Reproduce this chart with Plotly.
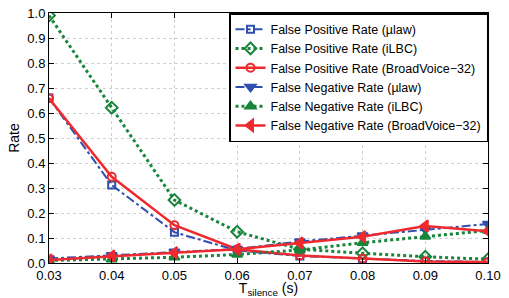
import plotly.graph_objects as go

t_silence = [0.03, 0.04, 0.05, 0.06, 0.07, 0.08, 0.09, 0.10]

fp_ulaw = [0.66, 0.312, 0.123, 0.05, 0.028, 0.017, 0.008, 0.004]
fp_ilbc = [0.99, 0.621, 0.252, 0.125, 0.055, 0.039, 0.025, 0.015]
fp_bv32 = [0.659, 0.345, 0.151, 0.055, 0.03, 0.017, 0.006, 0.004]
fn_ulaw = [0.018, 0.031, 0.045, 0.056, 0.086, 0.11, 0.135, 0.156]
fn_ilbc = [0.01, 0.015, 0.023, 0.034, 0.052, 0.081, 0.106, 0.13]
fn_bv32 = [0.012, 0.028, 0.041, 0.055, 0.08, 0.105, 0.148, 0.127]

names = [
    "False Positive Rate (\u00b5law)",
    "False Positive Rate (iLBC)",
    "False Positive Rate (BroadVoice\u221232)",
    "False Negative Rate (\u00b5law)",
    "False Negative Rate (iLBC)",
    "False Negative Rate (BroadVoice\u221232)",
]

BLUE = "#2f4fae"
GREEN = "#17853a"
RED = "#ee2a2e"

series = [
    (fp_ulaw, BLUE, "dashdot", 2, "square-open", 7),
    (fp_ilbc, GREEN, "dot", 3, "diamond-open", 9),
    (fp_bv32, RED, "solid", 2.5, "circle-open", 8),
    (fn_ulaw, BLUE, "dashdot", 2, "triangle-down", 9),
    (fn_ilbc, GREEN, "dot", 3, "triangle-up", 9),
    (fn_bv32, RED, "solid", 2.5, "triangle-left", 10),
]

fig = go.Figure()
for name, (vals, col, dash, w, sym, ms) in zip(names, series):
    fig.add_trace(go.Scatter(
        x=t_silence, y=vals, name=name, mode="lines+markers",
        line=dict(color=col, dash=dash, width=w),
        marker=dict(symbol=sym, size=ms, color=col,
                    line=dict(color=col, width=2)),
    ))

axis_common = dict(
    showline=True, linecolor="black", linewidth=1, mirror="allticks",
    ticks="inside", ticklen=5, tickcolor="black",
    showgrid=True, gridcolor="#d0d0d0", griddash="dot", gridwidth=1,
    zeroline=False, tickfont=dict(size=13, color="black"),
    automargin=False,
)

fig.update_layout(
    width=509, height=298,
    margin=dict(l=49, r=21, t=13, b=35),
    paper_bgcolor="white", plot_bgcolor="white",
    font=dict(family="Liberation Sans, Arial, sans-serif", size=13, color="black"),
    xaxis=dict(range=[0.03, 0.10], tickvals=t_silence, tickformat=".2f",
               ticklabeloverflow="allow",
               title=dict(text="T<sub>silence</sub> (s)", standoff=0,
                          font=dict(size=14)),
               **axis_common),
    yaxis=dict(range=[0, 1], dtick=0.1, tickformat=".1f",
               title=dict(text="Rate", standoff=4, font=dict(size=14)),
               **axis_common),
    legend=dict(x=1, y=1, xanchor="right", yanchor="top",
                bordercolor="black", borderwidth=1.5, bgcolor="white",
                font=dict(size=12.5), itemwidth=30, tracegroupgap=0,
                traceorder="normal"),
    showlegend=True,
)

fig.write_html("out.html", config={"displayModeBar": False},
               post_script="document.body.style.margin='0';document.body.style.overflow='hidden';")
